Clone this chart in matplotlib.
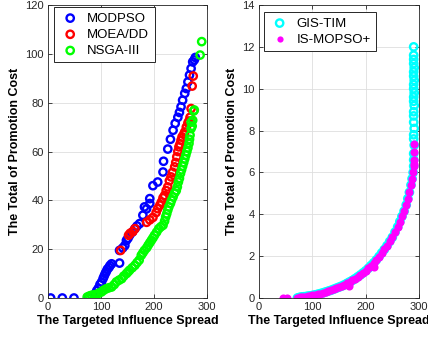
import numpy as np
import matplotlib
matplotlib.use("Agg")
import matplotlib.pyplot as plt

plt.rcParams['font.family'] = ['Liberation Sans', 'DejaVu Sans']

# left panel: three algorithms
mod_x = [5, 27, 49, 75, 88, 92, 95, 98, 101, 104, 106, 108, 110, 112, 115, 117, 120, 135, 135, 141,
         145, 148, 151, 154, 159, 164, 168, 173, 179, 182, 186, 192, 192, 198, 207, 217, 218, 226, 231, 236,
         240, 245, 248, 251, 254, 258, 261, 264, 267, 270, 273, 276, 278]
mod_y = [0, 0, 0, 0, 1.5, 3.0, 4.0, 5.5, 6.5, 8.0, 9.0, 10.0, 10.8, 11.8, 12.5, 13.3, 14.0, 14.3, 19.5, 20.5,
         21.5, 23.6, 24.5, 25.7, 27.0, 28.4, 29.5, 30.5, 33.9, 37.3, 36.5, 38.7, 40.7, 46.0, 47.5, 51.6, 56.0, 61.0, 65.0, 68.7,
         71.5, 74.0, 76.0, 78.3, 81.0, 83.8, 85.8, 88.5, 91.3, 94.0, 96.7, 97.5, 98.5]

dd_x = [137, 152, 155, 160, 164, 186, 192, 198, 204, 207, 211, 214, 217, 220, 223, 226, 229, 232,
        235, 239, 241, 243, 245, 247, 249, 251, 253, 256, 258, 261, 264, 266, 268, 270, 272, 274]
dd_y = [19.5, 25.7, 26.5, 27.2, 28.4, 31.0, 32.0, 33.0, 35.0, 36.6, 38.0, 39.3, 41.0, 42.0, 44.0, 45.5, 48.0, 49.6,
        51.5, 53.7, 55.5, 57.8, 60.0, 61.9, 63.0, 64.6, 66.0, 67.0, 68.0, 70.0, 71.7, 72.5, 74.0, 77.6, 86.8, 90.9]

nsga_x = [74, 78, 82, 87, 92, 96, 101, 105, 110, 115, 120, 125, 129, 134, 139, 143, 148, 151, 154, 159,
          164, 168, 172, 176, 179, 182, 186, 189, 192, 195, 198, 201, 205, 209, 213, 217, 220, 222, 224, 226,
          228, 231, 233, 236, 239, 242, 244, 246, 248, 250, 252, 254, 256, 258, 260, 262, 264, 266, 267, 268,
          270, 270, 272, 273, 275, 276, 287, 290]
nsga_y = [0.4, 0.8, 1.1, 1.3, 1.5, 2.0, 2.5, 3.2, 3.8, 4.2, 4.5, 5.5, 6.6, 7.3, 7.9, 9.0, 10.0, 10.7, 11.4, 12.4,
          13.4, 14.5, 15.5, 17.5, 18.5, 19.5, 20.5, 21.6, 22.6, 23.6, 24.6, 25.7, 27.0, 28.4, 29.2, 29.8, 31.5, 33.2, 34.5, 36.0,
          37.3, 38.7, 40.0, 41.4, 43.0, 44.0, 45.5, 47.5, 49.0, 51.0, 52.5, 54.0, 55.5, 57.0, 58.5, 60.0, 61.5, 63.3, 65.0, 66.7,
          69.4, 72.0, 70.4, 72.8, 76.6, 77.0, 99.5, 105.0]

# right panel
curve_x = [72, 76, 80, 84, 88, 92, 96, 100, 105, 110, 115, 120, 125, 130, 135, 140, 145, 150, 155, 160,
           165, 170, 175, 180, 185, 190, 195, 200, 205, 210, 215, 220, 225, 230, 235, 240, 245, 250, 255, 260,
           264, 268, 272, 276, 279, 282, 285, 287, 289, 290]
curve_y = [0.0, 0.03, 0.05, 0.06, 0.07, 0.09, 0.10, 0.12, 0.15, 0.18, 0.21, 0.25, 0.29, 0.33, 0.37, 0.42, 0.47, 0.52, 0.57, 0.63,
           0.70, 0.77, 0.84, 0.92, 1.01, 1.10, 1.20, 1.30, 1.42, 1.55, 1.68, 1.82, 1.98, 2.15, 2.32, 2.50, 2.70, 2.90, 3.15, 3.40,
           3.65, 3.90, 4.15, 4.45, 4.75, 5.05, 5.40, 5.70, 6.00, 6.30]
gis_top_x = [290, 290, 291, 290, 290, 291, 290, 290, 290, 291, 290, 290, 291, 290, 290, 291, 290, 290, 291, 290, 290, 290, 290]
gis_top_y = [6.6, 6.9, 7.3, 7.6, 7.8, 8.1, 8.4, 8.7, 8.9, 9.2, 9.4, 9.6, 9.8, 10.0, 10.2, 10.4, 10.6, 10.8, 11.0, 11.2, 11.4, 11.6, 12.0]
mopso_extra_x = [45, 53, 169, 215, 290, 290, 290, 290]
mopso_extra_y = [0, 0, 0.56, 1.48, 6.4, 6.6, 7.0, 7.35]

gis_x = curve_x + gis_top_x
gis_y = curve_y + gis_top_y
mopso_x = curve_x + mopso_extra_x
mopso_y = curve_y + mopso_extra_y

fig = plt.figure(figsize=(4.28, 3.39), dpi=100)
ax1 = fig.add_axes([48 / 428, 41 / 339, 159 / 428, 293 / 339])
ax2 = fig.add_axes([259 / 428, 41 / 339, 160 / 428, 293 / 339])

dark = '#262626'
kw = dict(s=28, facecolors='none', linewidths=1.7)
ax1.scatter(mod_x, mod_y, edgecolors='#0000ff', label='MODPSO', **kw)
ax1.scatter(dd_x, dd_y, edgecolors='#ff0000', label='MOEA/DD', **kw)
ax1.scatter(nsga_x, nsga_y, edgecolors='#00ff00', label='NSGA-III', **kw)
ax1.set_ylim(0, 120)
ax1.set_yticks(np.arange(0, 121, 20))

ax2.scatter(gis_x, gis_y, edgecolors='#00ffff', label='GIS-TIM', **kw)
ax2.scatter(mopso_x, mopso_y, color='#ff00ff', s=34, linewidths=0, label='IS-MOPSO+')
ax2.set_ylim(0, 14)
ax2.set_yticks(np.arange(0, 15, 2))

for ax in (ax1, ax2):
    ax.set_xlim(0, 300)
    ax.set_xticks([0, 100, 200, 300])
    ax.grid(True, color='#dedede', linewidth=0.6)
    ax.set_axisbelow(True)
    ax.tick_params(direction='in', top=True, right=True, length=3, width=0.6,
                   labelsize=8, colors=dark, pad=3)
    for sp in ax.spines.values():
        sp.set_color(dark)
        sp.set_linewidth(0.6)
    ax.set_xlabel('The Targeted Influence Spread', fontsize=9, fontweight='bold', labelpad=2)
    ax.set_ylabel('The Total of Promotion Cost', fontsize=9, fontweight='bold', labelpad=3)

leg_kw = dict(loc='upper left', borderaxespad=0, fancybox=False, framealpha=1,
              edgecolor=dark, fontsize=9.5, handlelength=1.6, handletextpad=0.5,
              labelspacing=0.3, borderpad=0.4)
l1 = ax1.legend(bbox_to_anchor=(0.04, 0.993), **leg_kw)
l2 = ax2.legend(bbox_to_anchor=(0.03, 0.976), **leg_kw)
for l in (l1, l2):
    l.get_frame().set_linewidth(0.7)
l2.legend_handles[1].set_sizes([20])

fig.savefig('out.png', dpi=100)
